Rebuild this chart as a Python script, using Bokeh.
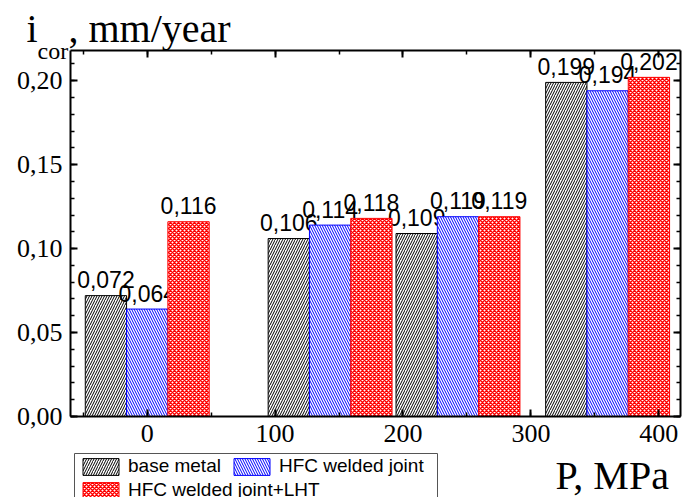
from bokeh.plotting import figure
from bokeh.models import (ColumnDataSource, Range1d, LinearAxis, SingleIntervalTicker,
                          CustomJSTickFormatter, Label, Legend, LegendItem, BoxAnnotation)
from bokeh.core.properties import value
from bokeh.embed import file_html
from bokeh.resources import INLINE

# ---- data ----
pressure = [0, 143, 243, 360]            # group positions on the P axis (MPa)
base_metal = [0.072, 0.106, 0.109, 0.199]
hfc_joint = [0.064, 0.114, 0.119, 0.194]
hfc_lht = [0.116, 0.118, 0.119, 0.202]
series_names = ["base metal", "HFC welded joint", "HFC welded joint+LHT"]
x_ticks = [0, 100, 200, 300, 400]

# ---- layout (pixels of the 683x497 canvas) ----
W, H = 683, 497
FL, FR, FT, FB = 70, 680, 50, 416         # visible axes box
XLO, XHI = -60, 417
YLO, YHI = 0.0, 0.218
sx = (XHI - XLO) / (FR - FL)
sy = (YHI - YLO) / (FB - FT)
x_full = Range1d(XLO - FL * sx, XHI + (W - FR) * sx)
y_full = Range1d(YLO - (H - FB) * sy, YHI + FT * sy)

BAR_W = 32.3
SERIF = "Liberation Serif"
SANS = "Liberation Sans"

p = figure(width=W, height=H, output_backend="svg", toolbar_location=None,
           x_range=x_full, y_range=y_full, x_axis_location=None, y_axis_location=None,
           min_border=0)
p.xgrid.visible = False
p.ygrid.visible = False
p.outline_line_color = None
p.background_fill_color = "white"
p.border_fill_color = "white"

styles = [
    dict(fill_color="white", line_color="black", hatch_pattern="right_diagonal_line",
         hatch_color="black", hatch_scale=5, hatch_weight=1),
    dict(fill_color="white", line_color="blue", hatch_pattern="left_diagonal_line",
         hatch_color="blue", hatch_scale=5, hatch_weight=1),
    dict(fill_color="white", line_color="red", hatch_pattern="diagonal_cross",
         hatch_color="red", hatch_scale=4, hatch_weight=1.5),
]
offsets = [-BAR_W, 0, BAR_W]
renderers = []
for vals, st, off in zip([base_metal, hfc_joint, hfc_lht], styles, offsets):
    xs = [x + off for x in pressure]
    src = ColumnDataSource(dict(x=xs, top=vals,
                                lab=[("%.3f" % v).replace(".", ",") for v in vals]))
    r = p.vbar(x="x", top="top", width=BAR_W, bottom=0, source=src, line_width=1, **st)
    renderers.append(r)
    p.text(x="x", y="top", text="lab", source=src, text_align="center",
           text_baseline="alphabetic", y_offset=-16, text_font=value(SANS),
           text_font_size="23px", text_color="black")

# ---- axes (drawn at fixed positions around the box) ----
xt = SingleIntervalTicker(interval=100, num_minor_ticks=2)
yt = SingleIntervalTicker(interval=0.05, num_minor_ticks=5)
yfmt = CustomJSTickFormatter(code="return tick.toFixed(2).replace('.', ',');")
blank = CustomJSTickFormatter(code="return '';")

def style_axis(ax, labels=True):
    ax.axis_line_width = 2
    ax.axis_line_color = "black"
    ax.major_tick_in = 7
    ax.major_tick_out = 0
    ax.minor_tick_in = 4
    ax.minor_tick_out = 0
    ax.major_tick_line_width = 2
    ax.minor_tick_line_width = 1.5
    ax.major_tick_line_color = "black"
    ax.minor_tick_line_color = "black"
    ax.major_label_text_font = SERIF
    ax.major_label_text_font_size = "26px"
    ax.major_label_text_color = "black"
    ax.major_label_standoff = 8
    if not labels:
        ax.formatter = blank

bottom_ax = LinearAxis(ticker=xt, fixed_location=YLO, bounds=(XLO, XHI))
left_ax = LinearAxis(ticker=yt, formatter=yfmt, fixed_location=XLO, bounds=(YLO, YHI))
top_ax = LinearAxis(ticker=xt, fixed_location=YHI, bounds=(XLO, XHI))
right_ax = LinearAxis(ticker=yt, fixed_location=XHI, bounds=(YLO, YHI))
style_axis(bottom_ax)
style_axis(left_ax)
style_axis(top_ax, labels=False)
style_axis(right_ax, labels=False)
p.add_layout(bottom_ax, "below")
p.add_layout(left_ax, "left")
p.add_layout(top_ax, "above")
p.add_layout(right_ax, "right")

def canvas_label(cx, cy, text, size, font=SERIF, **kw):
    return Label(x=cx, y=H - cy, x_units="screen", y_units="screen", text=text,
                 text_font=font, text_font_size=size, text_baseline="alphabetic",
                 text_color="black", **kw)

# ---- axis titles ----
p.add_layout(canvas_label(26, 28, "i", "40px"))
p.add_layout(canvas_label(37, 50, "cor", "24px"))
p.add_layout(canvas_label(68, 28, ", mm/year", "40px"))
p.add_layout(canvas_label(555, 475, "P, MPa", "40px"))

# ---- legend ----
box = BoxAnnotation(left=74, right=437, top=H - 453, bottom=H - 530,
                    left_units="screen", right_units="screen",
                    top_units="screen", bottom_units="screen",
                    fill_color="white", fill_alpha=1.0,
                    line_color="#555555", line_width=1, line_alpha=1.0)
p.add_layout(box)

def make_legend(items, left, top, nrows):
    h = 3 + nrows * 22 + (nrows - 1) * 2 + 3
    lg = Legend(items=items, location=(left, H - top - h), orientation="vertical",
                glyph_width=45, glyph_height=21, label_standoff=5, spacing=2,
                padding=3, margin=0, border_line_alpha=0, background_fill_alpha=0,
                label_text_font=SANS, label_text_font_size="19px", label_height=21,
                label_text_color="black")
    return lg

legA = make_legend([LegendItem(label=series_names[0], renderers=[renderers[0]]),
                    LegendItem(label=series_names[2], renderers=[renderers[2]])], 75, 452, 2)
legB = make_legend([LegendItem(label=series_names[1], renderers=[renderers[1]])], 226, 452, 1)
p.add_layout(legA)
p.add_layout(legB)

open("out.html", "w").write(file_html(p, INLINE))
